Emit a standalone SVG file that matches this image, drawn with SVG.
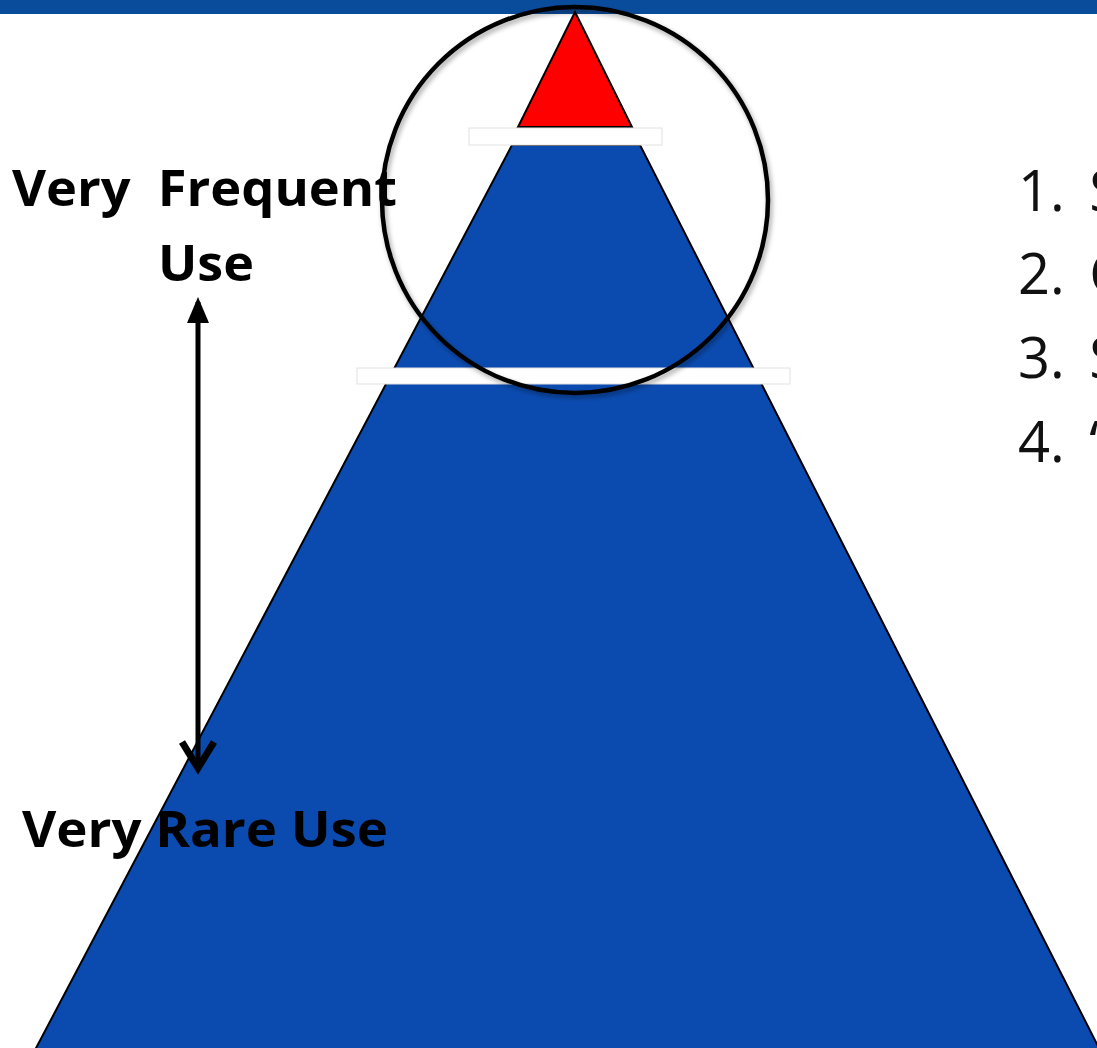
<svg xmlns="http://www.w3.org/2000/svg" width="1097" height="1048" viewBox="0 0 1097 1048">
  <defs>
    <filter id="soft" x="-10%" y="-10%" width="125%" height="125%">
      <feDropShadow dx="2" dy="3" stdDeviation="2.5" flood-color="#000" flood-opacity="0.35"/>
    </filter>
  </defs>
  <style>
    .lbl { font-family: "Open Sans", "Liberation Sans", sans-serif; font-weight: bold; font-size: 50px; fill: #000; }
    .item { font-family: "Open Sans", "Liberation Sans", sans-serif; font-size: 56px; fill: #111; word-spacing: 10px; }
    .band { fill: #fff; stroke: #e2e2e2; stroke-width: 1; }
  </style>
  <rect width="1097" height="1048" fill="#fff"/>
  <!-- header bar -->
  <rect x="0" y="0" width="1097" height="14" fill="#0a4c9c"/>

  <g id="pyramid-base">
    <polygon points="512,145 640,145 1100,1050 35,1050" fill="#0b4bb0" stroke="#000" stroke-width="2"/>
  </g>
  <g id="pyramid-tip">
    <polygon points="575,12 632,127 518,127" fill="#ff0000" stroke="#000" stroke-width="2"/>
  </g>
  <g id="band-top">
    <rect class="band" x="469" y="128" width="193" height="17"/>
  </g>
  <g id="band-mid">
    <rect class="band" x="357" y="368" width="433" height="16"/>
  </g>
  <g id="focus-ring">
    <circle cx="575" cy="200" r="193" fill="none" stroke="#000" stroke-width="4.5" filter="url(#soft)"/>
  </g>

  <g id="connectors">
    <line x1="198" y1="302" x2="198" y2="768" stroke="#000" stroke-width="5"/>
    <polygon points="198,297 187,323 209,323" fill="#000"/>
    <polyline points="182,742 198,768 214,742" fill="none" stroke="#000" stroke-width="7" stroke-linejoin="miter"/>
  </g>

  <g id="label-frequent">
    <text class="lbl" x="12" y="206" textLength="385" lengthAdjust="spacingAndGlyphs">Very&#160; Frequent</text>
    <text class="lbl" x="158" y="281" textLength="96" lengthAdjust="spacingAndGlyphs">Use</text>
  </g>
  <g id="label-rare">
    <text class="lbl" x="22" y="847" textLength="366" lengthAdjust="spacingAndGlyphs">Very Rare Use</text>
  </g>

  <g id="list">
    <text class="item" x="1018" y="211">1. S</text>
    <text class="item" x="1018" y="294">2. C</text>
    <text class="item" x="1018" y="378">3. S</text>
    <text class="item" x="1018" y="462">4. ‘</text>
  </g>
</svg>
